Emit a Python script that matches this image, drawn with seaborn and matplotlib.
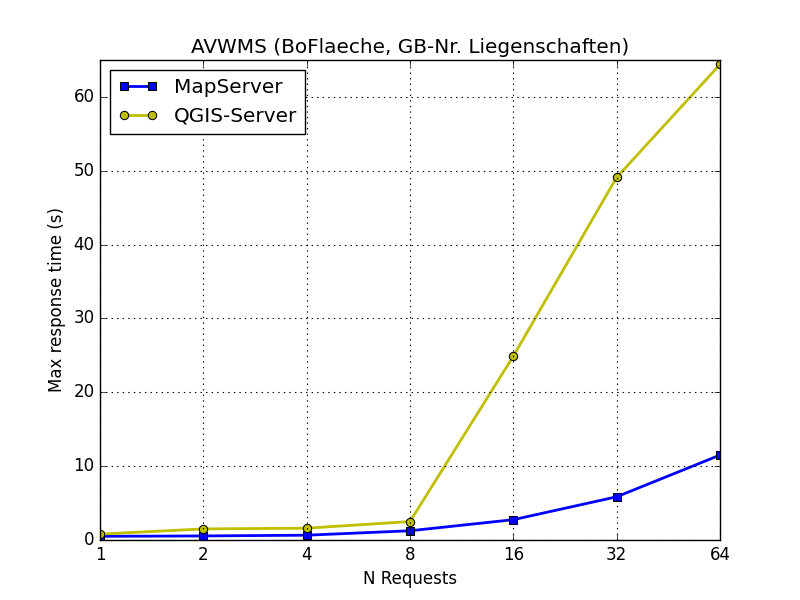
import seaborn as sns
import matplotlib
matplotlib.use("Agg")
import matplotlib.pyplot as plt
from matplotlib.ticker import NullLocator

# Max response times per number of parallel requests
n_requests = [1, 2, 4, 8, 16, 32, 64]
mapserver = [0.5, 0.55, 0.65, 1.25, 2.75, 5.85, 11.5]
qgis_server = [0.8, 1.5, 1.6, 2.5, 24.9, 49.1, 64.4]

plt.style.use("classic")
plt.rcParams["font.family"] = ["DejaVu Sans"]

fig, ax = plt.subplots(figsize=(8, 6), dpi=100)

sns.lineplot(x=n_requests, y=mapserver, ax=ax, color="b", linewidth=2,
             marker="s", markersize=6, markeredgecolor="k", label="MapServer")
sns.lineplot(x=n_requests, y=qgis_server, ax=ax, color="y", linewidth=2,
             marker="o", markersize=6, markeredgecolor="k", label="QGIS-Server")

ax.set_xscale("log", base=2)
ax.set_xticks(n_requests)
ax.set_xticklabels([str(n) for n in n_requests])
ax.xaxis.set_minor_locator(NullLocator())
ax.set_xlim(1, 64)
ax.set_ylim(0, 65)

ax.grid(True, color="k", linestyle=":", linewidth=0.8)
ax.set_title("AVWMS (BoFlaeche, GB-Nr. Liegenschaften)")
ax.set_xlabel("N Requests")
ax.set_ylabel("Max response time (s)")
ax.legend(loc="upper left", numpoints=2)

fig.savefig("out.png", dpi=100)
